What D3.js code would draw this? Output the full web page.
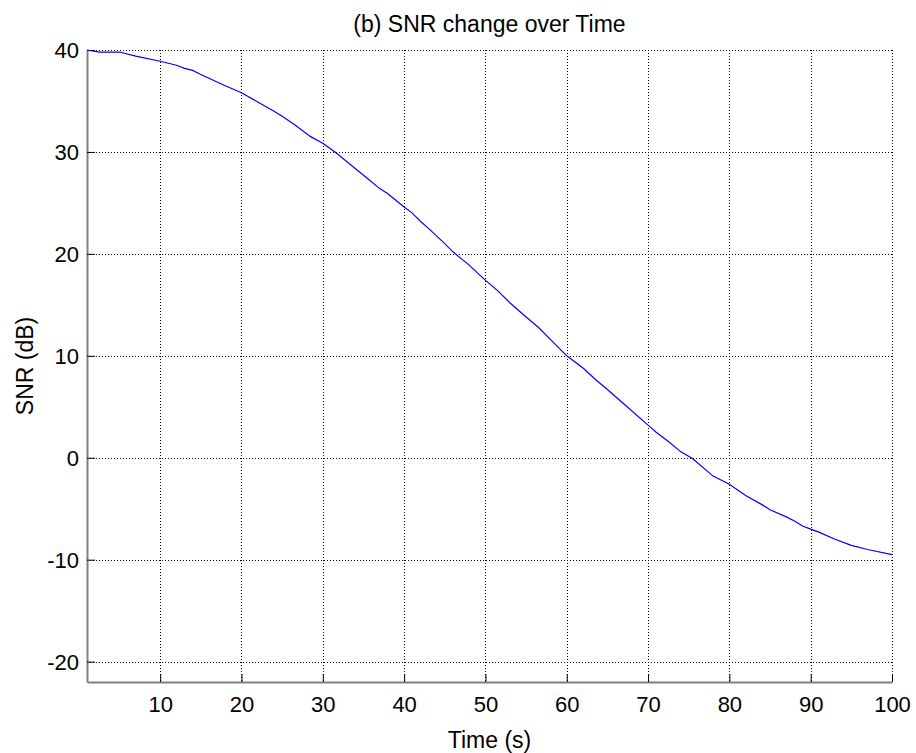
<!DOCTYPE html>
<html>
<head>
<meta charset="utf-8">
<script src="https://cdn.jsdelivr.net/npm/d3@7"></script>
<style>
  html, body { margin: 0; padding: 0; background: #fff; }
  svg { display: block; font-family: "Liberation Sans", Arial, Helvetica, sans-serif; }
</style>
</head>
<body>
<svg id="chart" width="916" height="753"></svg>
<script>
// SNR samples over time
const timeS = [1, 2.5, 5, 7, 10, 12, 13, 14, 15, 18, 20, 22, 24, 25, 26.5, 28.5, 30, 31.5, 33.5, 35.5,
  37, 38, 40, 41, 42, 43, 45, 46, 48, 50, 51.5, 53, 55, 56.5, 58.5, 60, 62, 63.5, 65, 67,
  70, 71, 72.5, 74, 75.5, 78, 80, 82, 84, 85, 87, 88, 89, 90, 91, 93, 95, 97, 100];
const snrDb = [40, 39.8, 39.8, 39.4, 38.9, 38.5, 38.2, 38.0, 37.6, 36.5, 35.8, 34.9, 34.0, 33.5, 32.7, 31.5, 30.85, 30.0, 28.7, 27.4,
  26.4, 25.9, 24.6, 24.0, 23.2, 22.5, 21.0, 20.2, 18.9, 17.4, 16.4, 15.2, 13.8, 12.8, 11.2, 10.0, 8.8, 7.7, 6.7, 5.3,
  3.2, 2.5, 1.6, 0.6, -0.1, -1.8, -2.6, -3.7, -4.6, -5.1, -5.8, -6.2, -6.7, -7.0, -7.3, -8.0, -8.6, -9.0, -9.5];

const xTicks = [10, 20, 30, 40, 50, 60, 70, 80, 90, 100];
const yTicks = [-20, -10, 0, 10, 20, 30, 40];
const xDomain = [1, 100];
const yDomain = [-22, 40];

const titleText = "(b) SNR change over Time";
const xLabel = "Time (s)";
const yLabel = "SNR (dB)";

const plot = { left: 87, right: 892, top: 50, bottom: 682 };
const svg = d3.select("#chart");

const x = d3.scaleLinear().domain(xDomain).range([plot.left, plot.right]);
const y = d3.scaleLinear().domain(yDomain).range([plot.bottom, plot.top]);

// plain hyphen for negative tick values
const fmt = d => String(d);

// dotted grid
const grid = svg.append("g").attr("class", "grid")
  .attr("stroke", "#000").attr("stroke-width", 1).attr("stroke-dasharray", "1,2");
grid.selectAll("line.gx").data(xTicks).join("line").attr("class", "gx")
  .attr("x1", d => Math.round(x(d)) + 0.5).attr("x2", d => Math.round(x(d)) + 0.5)
  .attr("y1", plot.top).attr("y2", plot.bottom);
grid.selectAll("line.gy").data(yTicks).join("line").attr("class", "gy")
  .attr("y1", d => Math.round(y(d)) + 0.5).attr("y2", d => Math.round(y(d)) + 0.5)
  .attr("x1", plot.left).attr("x2", plot.right);

// axes with inward ticks
const xAxis = svg.append("g").attr("transform", `translate(0,${plot.bottom})`)
  .call(d3.axisBottom(x).tickValues(xTicks).tickFormat(fmt).tickSizeInner(-8).tickSizeOuter(0).tickPadding(14));
const yAxis = svg.append("g").attr("transform", `translate(${plot.left},0)`)
  .call(d3.axisLeft(y).tickValues(yTicks).tickFormat(fmt).tickSizeInner(-8).tickSizeOuter(0).tickPadding(8));

[xAxis, yAxis].forEach(a => {
  a.select(".domain").attr("stroke", "#808080").attr("stroke-width", 2);
  a.selectAll(".tick line").attr("stroke", "#000").attr("stroke-width", 1);
  a.selectAll(".tick text").attr("fill", "#000").attr("font-size", 22)
    .attr("font-family", "Liberation Sans, Arial, sans-serif");
});
yAxis.selectAll(".tick text").attr("dy", "0.36em");

// SNR curve
const pts = timeS.map((t, i) => [t, snrDb[i]]);
svg.append("path").datum(pts)
  .attr("fill", "none").attr("stroke", "#0000ff").attr("stroke-width", 1.2)
  .attr("d", d3.line().x(d => x(d[0])).y(d => y(d[1])));

// titles
svg.append("text").attr("x", (plot.left + plot.right) / 2).attr("y", 32)
  .attr("text-anchor", "middle").attr("font-size", 23).text(titleText);
svg.append("text").attr("x", (plot.left + plot.right) / 2).attr("y", 748)
  .attr("text-anchor", "middle").attr("font-size", 23).text(xLabel);
svg.append("text").attr("transform", `translate(33,${(plot.top + plot.bottom) / 2}) rotate(-90)`)
  .attr("text-anchor", "middle").attr("font-size", 23).text(yLabel);
</script>
</body>
</html>
